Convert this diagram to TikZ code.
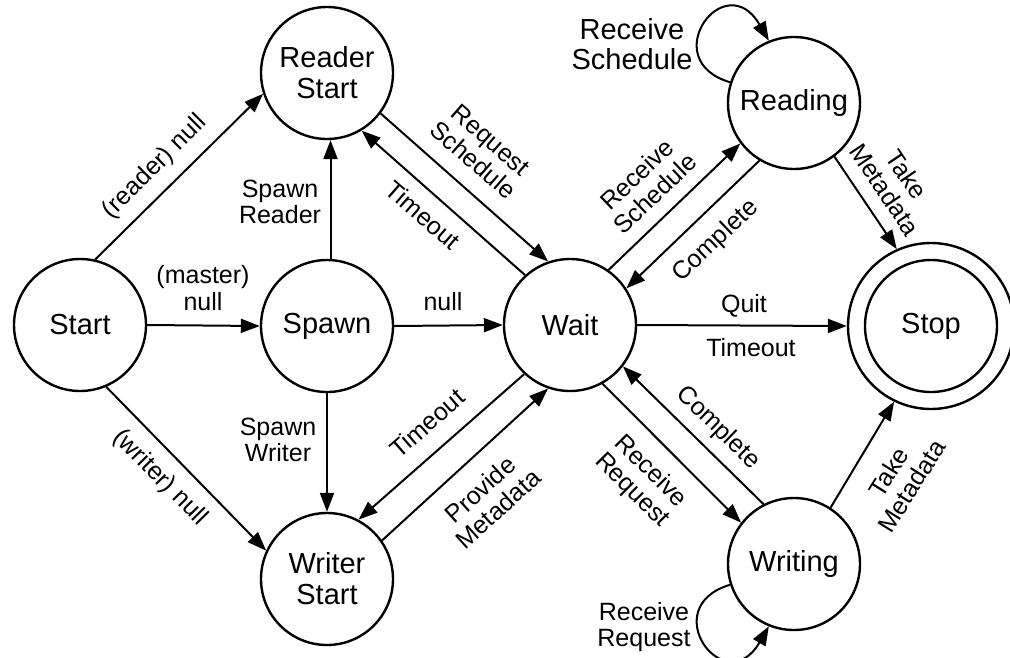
\documentclass[tikz,border=0pt]{standalone}
\usepackage{fontspec}
\setmainfont{Liberation Sans}
\usetikzlibrary{arrows.meta}
\newcommand\statefont{\fontsize{29}{31}\selectfont}
\newcommand\labelfont{\fontsize{25}{26.5}\selectfont}
\newcommand\biglabelfont{\fontsize{29}{30}\selectfont}
\tikzset{
  statebox/.style={circle, draw, line width=2.4pt, minimum size=132pt,
    inner sep=0pt, align=center, font=\statefont},
  trans/.style={line width=2pt, -{Triangle[length=19pt,width=14pt]}},
  lbl/.style={inner sep=0pt, align=center, font=\labelfont},
}
\begin{document}
\begin{tikzpicture}[x=1pt, y=-1pt]
\useasboundingbox (0,0) rectangle (1010,657);

% states
\node[statebox] (start)  at (80,325)  {Start};
\node[statebox] (rstart) at (327,73)  {Reader\\Start};
\node[statebox] (spawn)  at (327,326) {Spawn};
\node[statebox] (wstart) at (327,579) {Writer\\Start};
\node[statebox] (wait)   at (570,325) {Wait};
\node[statebox] (reading) at (794,103) {Reading};
\node[statebox] (writing) at (794,564) {Writing};
\node[statebox, minimum size=166pt] (stop) at (931,326) {Stop};
\draw[line width=2.4pt] (stop.center) circle[radius=66pt];

% transitions out of Start
\draw[trans] (start.77) -- (rstart.-162);
\draw[trans] (start.east) -- (spawn.west);
\draw[trans] (start.-67) -- (wstart.155);

% transitions out of Spawn
\draw[trans] (spawn.87) -- (rstart.-87);
\draw[trans] (spawn.south) -- (wstart.north);
\draw[trans] (spawn.east) -- (wait.west);

% Reader Start <-> Wait
\draw[trans] (rstart.-37) -- (wait.109);
\draw[trans] (wait.132) -- (rstart.-59);

% Writer Start <-> Wait
\draw[trans] (wait.-133) -- (wstart.62);
\draw[trans] (wstart.35) -- (wait.-109);

% Reading <-> Wait
\draw[trans] (wait.55) -- (reading.-143);
\draw[trans] (reading.-121) -- (wait.33);

% Writing <-> Wait
\draw[trans] (wait.-61) -- (writing.142);
\draw[trans] (writing.117) -- (wait.-38);

% into Stop
\draw[trans] (wait.east) -- (stop.west);
\draw[trans] (reading.-53) -- (stop.114);
\draw[trans] (writing.57) -- (stop.-116);

% self loops
\draw[trans] (reading.162) .. controls (655,60) and (725,-35) .. (reading.112);
\draw[trans] (writing.-162) .. controls (655,607) and (725,702) .. (writing.-112);

% transition labels
\node[lbl, rotate=45] (l-reader) at (155,167) {(reader) null};
\node[lbl] (l-master) at (203,288) {(master)\\null};
\node[lbl, rotate=-45.5] (l-writer) at (160,478) {(writer) null};
\node[lbl] (l-spr) at (280,202) {Spawn\\Reader};
\node[lbl] (l-spw) at (278,440) {Spawn\\Writer};
\node[lbl] (l-null) at (443,302) {null};
\node[lbl, rotate=-41] (l-req) at (482,150) {Request\\Schedule};
\node[lbl, rotate=-41] (l-to1) at (423,215) {Timeout};
\node[lbl, rotate=41] (l-to2) at (427,423) {Timeout};
\node[lbl, rotate=42] (l-prov) at (489,499) {Provide\\Metadata};
\node[lbl, rotate=43.5] (l-recs) at (646,184) {Receive\\Schedule};
\node[lbl, rotate=43.5] (l-comp1) at (716,241) {Complete};
\node[lbl, rotate=-56] (l-take1) at (896,182) {Take\\Metadata};
\node[lbl] (l-quit) at (744,306) {Quit};
\node[lbl] (l-to3) at (751,348) {Timeout};
\node[lbl, rotate=-44] (l-comp2) at (718,428) {Complete};
\node[lbl, rotate=-45] (l-recr) at (641,481) {Receive\\Request};
\node[lbl, rotate=58] (l-take2) at (900,479) {Take\\Metadata};
\node[lbl, font=\biglabelfont] (l-loop1) at (632,44) {Receive\\Schedule};
\node[lbl] (l-loop2) at (644,627) {Receive\\Request};
\end{tikzpicture}
\end{document}
